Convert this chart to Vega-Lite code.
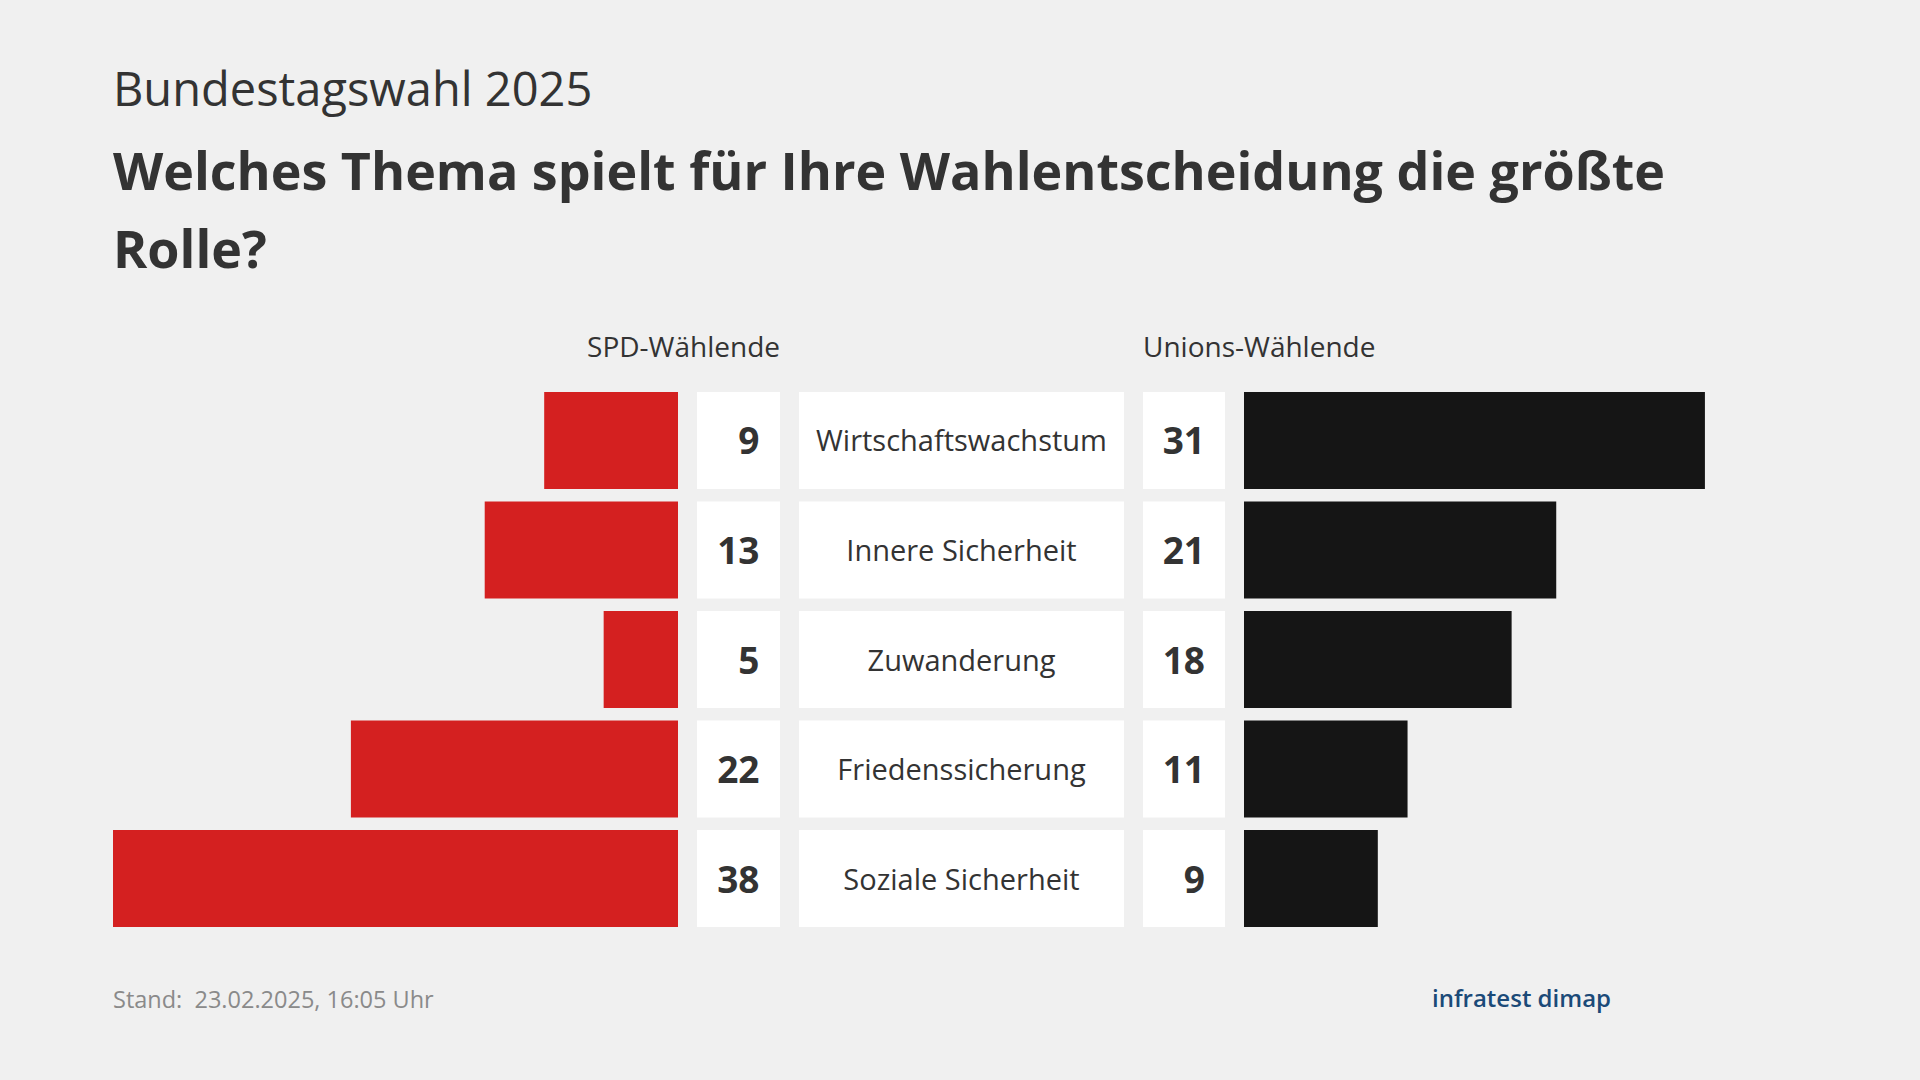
{
  "$schema": "https://vega.github.io/schema/vega-lite/v6.json",
  "background": "#f0f0f0",
  "padding": {"left": 113, "top": 68, "right": 115, "bottom": 80},
  "bounds": "flush",
  "spacing": 19,
  "title": {
    "text": "Bundestagswahl 2025",
    "subtitle": ["Welches Thema spielt für Ihre Wahlentscheidung die größte", "Rolle?"],
    "anchor": "start",
    "baseline": "top",
    "font": "Open Sans",
    "fontSize": 47,
    "fontWeight": "normal",
    "color": "#333333",
    "subtitleFont": "Open Sans",
    "subtitleFontSize": 52,
    "subtitleFontWeight": "bold",
    "subtitleColor": "#333333",
    "subtitleLineHeight": 78,
    "subtitlePadding": 33,
    "offset": 56
  },
  "datasets": {
    "rows": [
      {"thema": "Wirtschaftswachstum", "spd": 9, "union": 31},
      {"thema": "Innere Sicherheit", "spd": 13, "union": 21},
      {"thema": "Zuwanderung", "spd": 5, "union": 18},
      {"thema": "Friedenssicherung", "spd": 22, "union": 11},
      {"thema": "Soziale Sicherheit", "spd": 38, "union": 9}
    ]
  },
  "data": {"name": "rows"},
  "hconcat": [
    {
      "width": 565,
      "height": 535,
      "title": {"text": "Stand:\u00a0 23.02.2025, 16:05 Uhr", "orient": "bottom", "anchor": "start", "baseline": "alphabetic", "offset": 81, "fontSize": 23.5, "fontWeight": "normal", "color": "#8a8a8a", "font": "Open Sans"},
      "mark": {"type": "bar", "color": "#d42020"},
      "encoding": {
        "y": {"field": "thema", "type": "nominal", "sort": null, "axis": null, "scale": {"paddingInner": 0.115, "paddingOuter": 0}},
        "x": {"field": "spd", "type": "quantitative", "axis": null, "scale": {"domain": [0, 38], "reverse": true}}
      }
    },
    {
      "width": 83,
      "height": 535,
      "title": {"text": "SPD-Wählende", "orient": "top", "anchor": "end", "baseline": "alphabetic", "offset": 7, "fontSize": 28, "fontWeight": "normal", "color": "#333333", "font": "Open Sans"},
      "layer": [
        {
          "mark": {"type": "rect", "color": "#ffffff"},
          "encoding": {
            "y": {"field": "thema", "type": "nominal", "sort": null, "axis": null, "scale": {"paddingInner": 0.115, "paddingOuter": 0}}
          }
        },
        {
          "mark": {"type": "text", "align": "right", "baseline": "middle", "dx": 21, "dy": 3, "fontSize": 37, "fontWeight": "bold", "color": "#333333", "font": "Open Sans"},
          "encoding": {
            "y": {"field": "thema", "type": "nominal", "sort": null, "axis": null},
            "text": {"field": "spd", "type": "quantitative"}
          }
        }
      ]
    },
    {
      "width": 325,
      "height": 535,
      "layer": [
        {
          "mark": {"type": "rect", "color": "#ffffff"},
          "encoding": {
            "y": {"field": "thema", "type": "nominal", "sort": null, "axis": null, "scale": {"paddingInner": 0.115, "paddingOuter": 0}}
          }
        },
        {
          "mark": {"type": "text", "align": "center", "baseline": "middle", "dy": 2, "fontSize": 29, "fontWeight": "normal", "color": "#333333", "font": "Open Sans"},
          "encoding": {
            "y": {"field": "thema", "type": "nominal", "sort": null, "axis": null},
            "text": {"field": "thema", "type": "nominal"}
          }
        }
      ]
    },
    {
      "width": 82,
      "height": 535,
      "title": {"text": "Unions-Wählende", "orient": "top", "anchor": "start", "baseline": "alphabetic", "offset": 7, "fontSize": 28, "fontWeight": "normal", "color": "#333333", "font": "Open Sans"},
      "layer": [
        {
          "mark": {"type": "rect", "color": "#ffffff"},
          "encoding": {
            "y": {"field": "thema", "type": "nominal", "sort": null, "axis": null, "scale": {"paddingInner": 0.115, "paddingOuter": 0}}
          }
        },
        {
          "mark": {"type": "text", "align": "right", "baseline": "middle", "dx": 21, "dy": 3, "fontSize": 37, "fontWeight": "bold", "color": "#333333", "font": "Open Sans"},
          "encoding": {
            "y": {"field": "thema", "type": "nominal", "sort": null, "axis": null},
            "text": {"field": "union", "type": "quantitative"}
          }
        }
      ]
    },
    {
      "width": 565,
      "height": 535,
      "title": {"text": "infratest dimap", "orient": "bottom", "anchor": "end", "baseline": "alphabetic", "offset": 80, "dx": -198, "fontSize": 24, "fontWeight": "600", "color": "#1b4a78", "font": "Open Sans"},
      "mark": {"type": "bar", "color": "#151515"},
      "encoding": {
        "y": {"field": "thema", "type": "nominal", "sort": null, "axis": null, "scale": {"paddingInner": 0.115, "paddingOuter": 0}},
        "x": {"field": "union", "type": "quantitative", "axis": null, "scale": {"domain": [0, 38]}}
      }
    }
  ],
  "config": {
    "view": {"stroke": null},
    "font": "Open Sans"
  }
}
